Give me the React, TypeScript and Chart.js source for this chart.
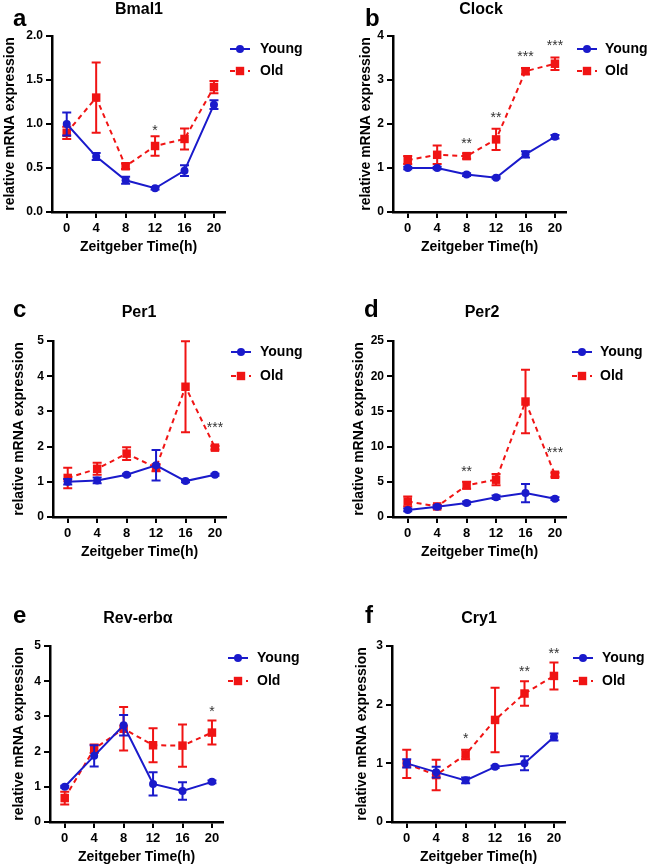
import React, { useEffect, useRef } from 'react';
import { Chart, registerables } from 'chart.js';

Chart.register(...registerables);
Chart.defaults.font.family = "'Liberation Sans', Arial, sans-serif";

const FONT = "'Liberation Sans', Arial, sans-serif";
const BLUE = '#1a1acb';
const RED = '#f01414';
const STAR_COLOR = '#333333';

// ---------- data ----------
const zeitgeberHours = [0, 4, 8, 12, 16, 20];
const seriesNames = ['Young', 'Old'];

// a: Bmal1
const bmal1Young = [1.0, 0.63, 0.36, 0.27, 0.47, 1.22];
const bmal1YoungSem = [0.13, 0.04, 0.04, 0.015, 0.06, 0.05];
const bmal1Old = [0.9, 1.3, 0.52, 0.75, 0.83, 1.42];
const bmal1OldSem = [0.07, 0.4, 0.03, 0.11, 0.12, 0.07];
const bmal1Stars = [{ hour: 12, level: 0.97, text: '*' }];

// b: Clock
const clockYoung = [1.0, 1.0, 0.85, 0.78, 1.31, 1.71];
const clockYoungSem = [0.03, 0.03, 0.03, 0.02, 0.07, 0.04];
const clockOld = [1.18, 1.3, 1.27, 1.65, 3.2, 3.37];
const clockOldSem = [0.09, 0.21, 0.06, 0.24, 0.07, 0.14];
const clockStars = [
  { hour: 8, level: 1.64, text: '**' },
  { hour: 12, level: 2.23, text: '**' },
  { hour: 16, level: 3.62, text: '***' },
  { hour: 20, level: 3.87, text: '***' },
];

// c: Per1
const per1Young = [1.0, 1.04, 1.2, 1.47, 1.02, 1.2];
const per1YoungSem = [0.08, 0.08, 0.03, 0.43, 0.03, 0.03];
const per1Old = [1.11, 1.37, 1.8, 1.4, 3.7, 1.97];
const per1OldSem = [0.29, 0.17, 0.18, 0.1, 1.29, 0.05];
const per1Stars = [{ hour: 20, level: 2.63, text: '***' }];

// d: Per2
const per2Young = [1.0, 1.45, 2.0, 2.8, 3.4, 2.6];
const per2YoungSem = [0.2, 0.2, 0.2, 0.25, 1.3, 0.2];
const per2Old = [2.2, 1.5, 4.5, 5.3, 16.4, 6.0];
const per2OldSem = [0.7, 0.2, 0.5, 0.8, 4.5, 0.3];
const per2Stars = [
  { hour: 8, level: 6.9, text: '**' },
  { hour: 20, level: 9.7, text: '***' },
];

// e: Rev-erbα
const revYoung = [1.0, 1.88, 2.75, 1.08, 0.88, 1.14];
const revYoungSem = [0.03, 0.3, 0.29, 0.33, 0.25, 0.04];
const revOld = [0.68, 2.08, 2.65, 2.18, 2.17, 2.54];
const revOldSem = [0.18, 0.12, 0.62, 0.48, 0.6, 0.34];
const revStars = [{ hour: 20, level: 3.25, text: '*' }];

// f: Cry1
const cry1Young = [1.0, 0.85, 0.71, 0.94, 1.0, 1.45];
const cry1YoungSem = [0.07, 0.09, 0.05, 0.02, 0.12, 0.06];
const cry1Old = [0.99, 0.8, 1.15, 1.74, 2.19, 2.49];
const cry1OldSem = [0.24, 0.26, 0.08, 0.55, 0.21, 0.23];
const cry1Stars = [
  { hour: 8, level: 1.48, text: '*' },
  { hour: 16, level: 2.63, text: '**' },
  { hour: 20, level: 2.94, text: '**' },
];

const panels = [
  { letter: 'a', title: 'Bmal1', young: bmal1Young, youngSem: bmal1YoungSem, old: bmal1Old, oldSem: bmal1OldSem, stars: bmal1Stars, yMax: 2, yStep: 0.5, decimals: 1 },
  { letter: 'b', title: 'Clock', young: clockYoung, youngSem: clockYoungSem, old: clockOld, oldSem: clockOldSem, stars: clockStars, yMax: 4, yStep: 1, decimals: 0 },
  { letter: 'c', title: 'Per1', young: per1Young, youngSem: per1YoungSem, old: per1Old, oldSem: per1OldSem, stars: per1Stars, yMax: 5, yStep: 1, decimals: 0 },
  { letter: 'd', title: 'Per2', young: per2Young, youngSem: per2YoungSem, old: per2Old, oldSem: per2OldSem, stars: per2Stars, yMax: 25, yStep: 5, decimals: 0 },
  { letter: 'e', title: 'Rev-erbα', young: revYoung, youngSem: revYoungSem, old: revOld, oldSem: revOldSem, stars: revStars, yMax: 5, yStep: 1, decimals: 0 },
  { letter: 'f', title: 'Cry1', young: cry1Young, youngSem: cry1YoungSem, old: cry1Old, oldSem: cry1OldSem, stars: cry1Stars, yMax: 3, yStep: 1, decimals: 0 },
];

// ---------- layout (page pixels) ----------
const layouts = [
  { left: 0, top: 0, w: 325, h: 290, axisX: 52, areaTop: 36, areaBottom: 212, yTitleX: 10, letterX: 13, letterY: 26, titleX: 139, titleY: 14, legLineX: 230, legTextX: 260, legY1: 49, legY2: 71 },
  { left: 325, top: 0, w: 324, h: 290, axisX: 393, areaTop: 36, areaBottom: 212, yTitleX: 366, letterX: 365, letterY: 26, titleX: 481, titleY: 14, legLineX: 577, legTextX: 605, legY1: 49, legY2: 71 },
  { left: 0, top: 290, w: 325, h: 290, axisX: 53, areaTop: 341, areaBottom: 517, yTitleX: 19, letterX: 13, letterY: 317, titleX: 139, titleY: 317, legLineX: 231, legTextX: 260, legY1: 352, legY2: 376 },
  { left: 325, top: 290, w: 324, h: 290, axisX: 393, areaTop: 341, areaBottom: 517, yTitleX: 359, letterX: 364, letterY: 317, titleX: 482, titleY: 317, legLineX: 572, legTextX: 600, legY1: 352, legY2: 376 },
  { left: 0, top: 580, w: 325, h: 287, axisX: 50, areaTop: 646, areaBottom: 822, yTitleX: 19, letterX: 13, letterY: 623, titleX: 138, titleY: 623, legLineX: 228, legTextX: 257, legY1: 658, legY2: 681 },
  { left: 325, top: 580, w: 324, h: 287, axisX: 392, areaTop: 646, areaBottom: 822, yTitleX: 362, letterX: 365, letterY: 623, titleX: 479, titleY: 623, legLineX: 573, legTextX: 602, legY1: 658, legY2: 681 },
];

const X_MIN = -2;
const X_MAX = 21.5;
const AREA_W = 173;
const X_AXIS_H = 44;

const errorBarPlugin = {
  id: 'errorBars',
  beforeDatasetDraw(chart: any, args: any) {
    const ds: any = chart.data.datasets[args.index];
    const sem: number[] = ds.sem;
    if (!sem) return;
    const xs = chart.scales.x;
    const ys = chart.scales.y;
    const ctx = chart.ctx;
    ctx.save();
    ctx.strokeStyle = ds.borderColor;
    ctx.lineWidth = 2;
    ctx.setLineDash([]);
    ds.data.forEach((p: any, i: number) => {
      const px = xs.getPixelForValue(p.x);
      const top = ys.getPixelForValue(p.y + sem[i]);
      const bot = ys.getPixelForValue(Math.max(0, p.y - sem[i]));
      ctx.beginPath();
      ctx.moveTo(px, top);
      ctx.lineTo(px, bot);
      ctx.moveTo(px - 4.5, top);
      ctx.lineTo(px + 4.5, top);
      ctx.moveTo(px - 4.5, bot);
      ctx.lineTo(px + 4.5, bot);
      ctx.stroke();
    });
    ctx.restore();
  },
};

function makeDecorPlugin(panel: any, L: any) {
  return {
    id: 'decor',
    afterDraw(chart: any) {
      const ctx = chart.ctx;
      const ox = L.left;
      const oy = L.top;
      ctx.save();
      // panel letter
      ctx.fillStyle = '#000';
      ctx.font = `bold 24px ${FONT}`;
      ctx.textAlign = 'left';
      ctx.textBaseline = 'alphabetic';
      ctx.fillText(panel.letter, L.letterX - ox, L.letterY - oy);
      // title
      ctx.font = `bold 16px ${FONT}`;
      ctx.textAlign = 'center';
      ctx.fillText(panel.title, L.titleX - ox, L.titleY - oy);
      // stars
      const xs = chart.scales.x;
      const ys = chart.scales.y;
      ctx.font = `14px ${FONT}`;
      ctx.fillStyle = STAR_COLOR;
      panel.stars.forEach((s: any) => {
        ctx.fillText(s.text, xs.getPixelForValue(s.hour), ys.getPixelForValue(s.level) + 8);
      });
      // legend
      const rows = [
        { ds: chart.data.datasets[0], y: L.legY1 - oy },
        { ds: chart.data.datasets[1], y: L.legY2 - oy },
      ];
      const lx = L.legLineX - ox;
      rows.forEach((r: any) => {
        const ds = r.ds;
        ctx.strokeStyle = ds.borderColor;
        ctx.fillStyle = ds.borderColor;
        ctx.lineWidth = 2;
        ctx.setLineDash(ds.borderDash || []);
        ctx.beginPath();
        ctx.moveTo(lx, r.y);
        ctx.lineTo(lx + 20, r.y);
        ctx.stroke();
        ctx.setLineDash([]);
        ctx.beginPath();
        if (ds.pointStyle === 'rect') {
          ctx.rect(lx + 10 - 4.2, r.y - 4.2, 8.4, 8.4);
        } else {
          ctx.arc(lx + 10, r.y, 4, 0, Math.PI * 2);
        }
        ctx.fill();
        ctx.fillStyle = '#000';
        ctx.font = `bold 14px ${FONT}`;
        ctx.textAlign = 'left';
        ctx.textBaseline = 'middle';
        ctx.fillText(ds.label, L.legTextX - ox, r.y);
      });
      ctx.restore();
    },
  };
}

function Panel({ panel, L }: { panel: any; L: any }) {
  const ref = useRef<HTMLCanvasElement>(null);
  useEffect(() => {
    const canvas = ref.current;
    if (!canvas) return;
    const padLeft = L.yTitleX - L.left - 8.4;
    const yW = L.axisX - L.left - padLeft;
    const areaTop = L.areaTop - L.top;
    const areaBottom = L.areaBottom - L.top;
    const areaRight = L.axisX + AREA_W - L.left;
    const gridOpts = {
      display: true,
      drawOnChartArea: false,
      drawTicks: true,
      tickLength: 6,
      tickWidth: 2,
      tickColor: '#000',
      color: '#000',
      lineWidth: 2,
    };
    const borderOpts = { display: true, color: '#000', width: 2.5 };
    const chart = new Chart(canvas, {
      type: 'line',
      data: {
        datasets: [
          {
            label: seriesNames[0],
            data: zeitgeberHours.map((h, i) => ({ x: h, y: panel.young[i] })),
            sem: panel.youngSem,
            borderColor: BLUE,
            backgroundColor: BLUE,
            borderWidth: 2,
            pointStyle: 'circle',
            pointRadius: 4,
            pointBackgroundColor: BLUE,
            pointBorderColor: BLUE,
            pointBorderWidth: 0,
            tension: 0,
          } as any,
          {
            label: seriesNames[1],
            data: zeitgeberHours.map((h, i) => ({ x: h, y: panel.old[i] })),
            sem: panel.oldSem,
            borderColor: RED,
            backgroundColor: RED,
            borderWidth: 2,
            borderDash: [5, 4],
            pointStyle: 'rect',
            pointRadius: 6,
            pointBackgroundColor: RED,
            pointBorderColor: RED,
            pointBorderWidth: 0,
            tension: 0,
          } as any,
        ],
      },
      options: {
        responsive: false,
        animation: false,
        devicePixelRatio: 1,
        layout: {
          padding: {
            left: padLeft,
            top: areaTop,
            right: L.w - areaRight,
            bottom: L.h - areaBottom - X_AXIS_H,
          },
        },
        plugins: {
          legend: { display: false },
          tooltip: { enabled: false },
          title: { display: false },
        },
        scales: {
          x: {
            type: 'linear',
            min: X_MIN,
            max: X_MAX,
            afterBuildTicks: (s: any) => {
              s.ticks = zeitgeberHours.map((v) => ({ value: v }));
            },
            afterFit: (s: any) => {
              s.height = X_AXIS_H;
              s.paddingLeft = 0;
              s.paddingRight = 0;
            },
            grid: gridOpts,
            border: borderOpts,
            ticks: {
              color: '#000',
              font: { size: 13, weight: 'bold' },
              padding: 3,
              maxRotation: 0,
              autoSkip: false,
              callback: (v: any) => String(v),
            },
            title: {
              display: true,
              text: 'Zeitgeber Time(h)',
              color: '#000',
              font: { size: 14, weight: 'bold' },
              padding: 0,
            },
          },
          y: {
            type: 'linear',
            min: 0,
            max: panel.yMax,
            afterFit: (s: any) => {
              s.width = yW;
              s.paddingTop = 0;
              s.paddingBottom = 0;
            },
            grid: gridOpts,
            border: borderOpts,
            ticks: {
              stepSize: panel.yStep,
              color: '#000',
              font: { size: 12, weight: 'bold' },
              padding: 3,
              callback: (v: any) => Number(v).toFixed(panel.decimals),
            },
            title: {
              display: true,
              text: 'relative mRNA expression',
              color: '#000',
              font: { size: 14, weight: 'bold' },
              padding: 0,
            },
          },
        },
      } as any,
      plugins: [errorBarPlugin, makeDecorPlugin(panel, L)],
    });
    return () => chart.destroy();
  }, [panel, L]);
  return (
    <canvas
      ref={ref}
      width={L.w}
      height={L.h}
      style={{ position: 'absolute', left: L.left, top: L.top, width: L.w, height: L.h, display: 'block' }}
    />
  );
}

export default function App() {
  return (
    <div style={{ position: 'absolute', left: 0, top: 0, width: 649, height: 867, background: '#fff', overflow: 'hidden' }}>
      {panels.map((p, i) => (
        <Panel key={p.letter} panel={p} L={layouts[i]} />
      ))}
    </div>
  );
}
